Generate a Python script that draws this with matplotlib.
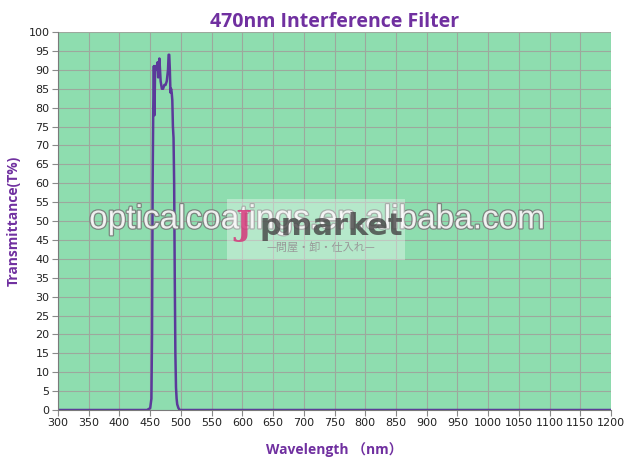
"""
470nm interference filter transmittance curve
"""

import matplotlib.pyplot as plt
import matplotlib.patheffects as pe
from matplotlib.patches import Rectangle

wavelength = [300, 445, 450, 452, 453, 454, 455, 456, 457, 458, 460, 462, 463, 464,
              465, 467, 469, 471, 473, 475, 477, 479, 480, 481, 482, 483, 484, 485,
              486, 487, 488, 489, 490, 491, 492, 493, 494, 496, 498, 1200]
transmittance = [0, 0, 0.5, 3, 20, 60, 80, 91, 78, 91, 90, 92, 88, 91,
                 93, 87, 85, 85, 86, 86, 87, 90, 94, 94, 90, 84, 85, 84,
                 82, 75, 72, 60, 35, 15, 6, 3, 1.5, 0.5, 0, 0]

x_ticks = list(range(300, 1201, 50))
y_ticks = list(range(0, 101, 5))

title_color = "#7030A0"
bg_color = "#8EDDAF"


def draw_filter():
    fig = plt.figure(figsize=(6.32, 4.58), dpi=100)
    ax = fig.add_axes([0.0918, 0.1048, 0.875, 0.8252])
    ax.set_facecolor(bg_color)

    ax.plot(wavelength, transmittance, color="#5B3A9A", lw=1.8, zorder=2)

    ax.set_xlim(300, 1200)
    ax.set_ylim(0, 100)
    ax.set_xticks(x_ticks)
    ax.set_yticks(y_ticks)
    ax.grid(True, color="#9DA89D", lw=0.8, zorder=0)
    ax.set_axisbelow(True)
    for side in ("top", "right"):
        ax.spines[side].set_visible(False)
    for side in ("left", "bottom"):
        ax.spines[side].set_color("#7A7A7A")
        ax.spines[side].set_zorder(4)
    ax.tick_params(axis="both", direction="out", length=4, color="#8A8A8A",
                   labelsize=8, labelcolor="#222222", pad=2)

    ax.set_title("470nm Interference Filter", color=title_color, fontsize=14,
                 fontweight="bold", family="Open Sans", pad=4)
    ax.set_xlabel("Wavelength （nm）", color=title_color, fontsize=10,
                  fontweight="bold", family=["Open Sans", "Noto Sans CJK SC"],
                  labelpad=10)
    ax.set_ylabel("Transmittance(T%)", color=title_color, fontsize=10,
                  fontweight="bold", family="Open Sans", labelpad=6)

    # watermark
    fig.text(0.501, 0.52, "opticalcoatings.en.alibaba.com", ha="center", va="center",
             fontsize=24, color="white", alpha=0.85, family="Liberation Sans",
             path_effects=[pe.withStroke(linewidth=1.8, foreground="#777777")], zorder=5)
    fig.patches.append(Rectangle((0.359, 0.432), 0.282, 0.133, transform=fig.transFigure,
                                 facecolor="white", alpha=0.35, edgecolor="none", zorder=6))
    fig.text(0.385, 0.507, "J", ha="center", va="center", fontsize=24, fontweight="bold",
             color="#D4387A", alpha=0.85, family="DejaVu Serif", zorder=7)
    fig.text(0.525, 0.505, "pmarket", ha="center", va="center", fontsize=22,
             fontweight="bold", color="#444444", alpha=0.8, family="DejaVu Sans", zorder=7)
    fig.text(0.508, 0.459, "—問屋・卸・仕入れ—", ha="center", va="center", fontsize=8,
             color="#999999", family="Noto Sans CJK JP", zorder=7)

    plt.savefig("out.png", dpi=100)


if __name__ == "__main__":
    draw_filter()
